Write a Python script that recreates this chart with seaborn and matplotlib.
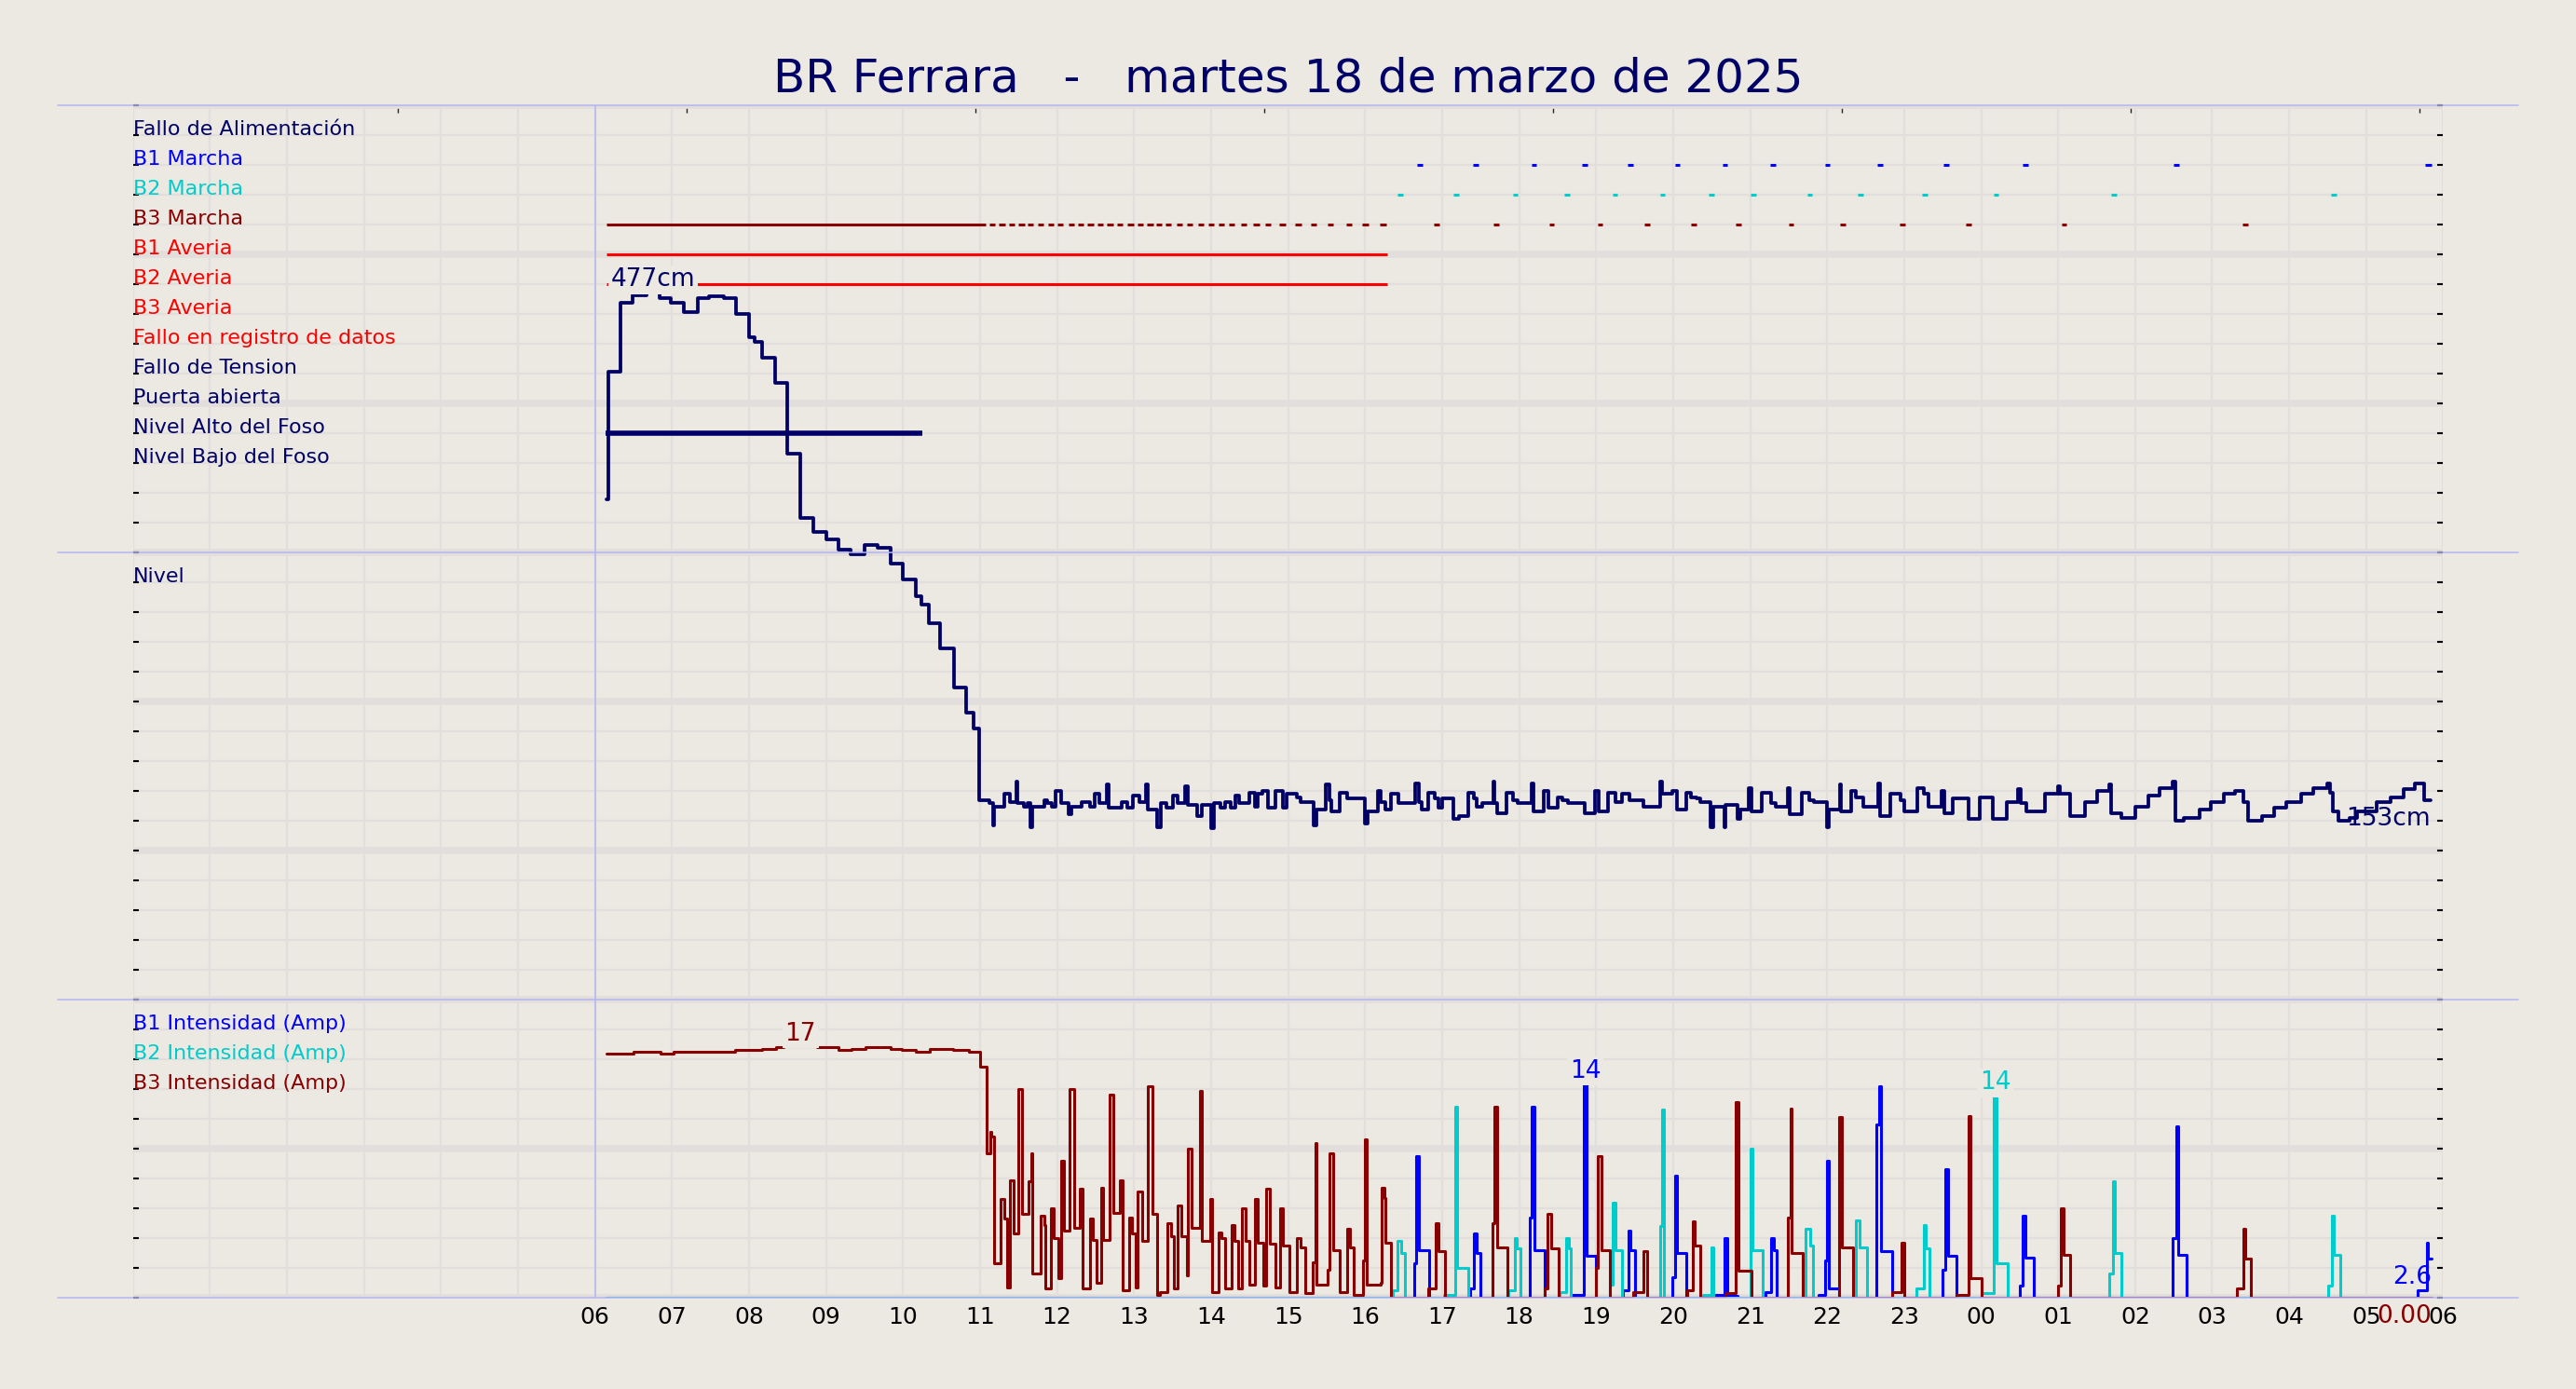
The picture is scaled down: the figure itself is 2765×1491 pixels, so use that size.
import numpy as np
import matplotlib
matplotlib.use("Agg")
import matplotlib.pyplot as plt
from matplotlib.lines import Line2D
from matplotlib.ticker import FixedLocator
import seaborn as sns

TITLE = "BR Ferrara   -   martes 18 de marzo de 2025"

# colores
BG = "#ece8e2"
GRID = "#e2dedc"
SEP = "#b4b4f2"
NAVY = "#000066"
BLUE = "#0000ff"
CYAN = "#00cccc"
DARKRED = "#880000"
RED = "#ff0000"

# filas del panel de señales (de arriba a abajo)
signal_labels = ["Fallo de Alimentación", "B1 Marcha", "B2 Marcha", "B3 Marcha",
                 "B1 Averia", "B2 Averia", "B3 Averia", "Fallo en registro de datos",
                 "Fallo de Tension", "Puerta abierta", "Nivel Alto del Foso",
                 "Nivel Bajo del Foso"]
signal_colors = [NAVY, BLUE, CYAN, DARKRED, RED, RED, RED, RED,
                 NAVY, NAVY, NAVY, NAVY]
amp_labels = ["B1 Intensidad (Amp)", "B2 Intensidad (Amp)", "B3 Intensidad (Amp)"]

# tiempos en minutos desde las 00:00 del 18/03/2025
b1_runs = [(1000.7, 1004.7), (1044, 1048), (1089.6, 1093.6), (1129, 1133), (1164.7, 1168.7),
           (1201.2, 1205.2), (1238.4, 1242.4), (1275.6, 1279.6), (1318.1, 1322.1),
           (1359.1, 1363.1), (1410.7, 1414.7), (1472.3, 1476.3), (1590, 1594), (1786, 1791)]
b2_runs = [(985.5, 989.5), (1028.8, 1032.8), (1075.1, 1079.1), (1115.4, 1119.4), (1152.6, 1156.6),
           (1189.8, 1193.8), (1227.7, 1231.7), (1260.4, 1264.4), (1304.4, 1308.4),
           (1343.9, 1347.9), (1394, 1398), (1449.5, 1453.5), (1541.3, 1545.3), (1712.9, 1716.9)]
b3_runs = [(369, 664), (667.1, 671.7), (674.7, 679.3), (682.3, 686.9), (689.9, 694.5),
           (696.7, 701.3), (705.0, 709.6), (712.7, 717.3), (720.2, 724.8), (728.6, 733.2),
           (736.2, 740.8), (743.8, 748.4), (751.4, 756.0), (759.0, 763.6), (766.5, 771.1),
           (774.9, 779.5), (782.5, 787.1), (790.1, 794.7), (796.9, 801.5), (804.5, 809.1),
           (812.9, 817.5), (821.2, 825.8), (829.6, 834.2), (837.9, 842.5), (845.5, 850.1),
           (853.9, 858.5), (863.0, 867.6), (872.8, 877.4), (882.0, 886.6), (893.3, 897.9),
           (905.5, 910.1), (917.6, 922.2), (930.6, 935.2), (945.0, 949.6), (957.9, 962.5),
           (971.6, 976.2), (1013.6, 1017.6), (1060, 1064), (1103.2, 1107.2), (1141.2, 1145.2),
           (1177.6, 1181.6), (1214.1, 1218.1), (1249, 1253), (1290, 1294), (1330.2, 1334.2),
           (1376.6, 1380.6), (1428.2, 1432.2), (1502.6, 1506.6), (1643.8, 1647.8)]
b1_fault = [(369, 977)]
b2_fault = [(369, 977)]
high_pit = [(368, 615)]

# nivel del foso (cm)
level_pts = [
    (369, 345), (370, 426), (380, 470), (389, 475), (400, 477), (410, 473), (419, 470),
    (429, 464), (440, 473), (449, 474), (460, 473), (470, 463), (480, 448), (484, 445),
    (490, 435), (500, 419), (510, 374), (520, 333), (530, 324), (540, 319), (550, 313),
    (559, 310), (570, 316), (580, 314), (590, 304), (600, 294), (610, 283), (614, 278),
    (620, 266), (629, 250), (640, 225), (649, 209), (655, 199),
    (659, 153), (667, 151), (670, 137), (671, 149), (679, 157), (683, 152), (688, 165),
    (689, 151), (694, 149), (697, 151), (699, 136), (701, 149), (710, 153), (712, 151),
    (716, 149), (719, 159), (723, 151), (729, 144), (731, 149), (739, 152), (746, 149),
    (749, 157), (753, 151), (759, 163), (760, 148), (770, 152), (775, 148), (779, 156),
    (784, 152), (789, 163), (791, 147), (798, 136), (801, 151), (805, 148), (810, 156),
    (814, 151), (820, 162), (822, 150), (829, 143), (833, 150), (840, 135), (842, 151),
    (847, 148), (851, 152), (855, 148), (859, 156), (862, 151), (870, 158), (874, 149),
    (876, 157), (880, 159), (884, 148), (890, 159), (896, 148), (899, 157), (907, 155),
    (910, 152), (920, 137), (922, 147), (929, 163), (932, 153), (934, 146), (940, 158),
    (946, 154), (960, 138), (962, 146), (970, 159), (972, 152), (976, 147), (980, 157),
    (986, 151), (999, 164), (1002, 152), (1004, 147), (1009, 158), (1014, 154), (1017, 148),
    (1020, 154), (1029, 141), (1033, 143), (1040, 158), (1045, 154), (1047, 149), (1051, 151),
    (1060, 165), (1061, 151), (1063, 145), (1070, 158), (1075, 153), (1079, 151), (1090, 164),
    (1091, 146), (1099, 159), (1103, 148), (1110, 155), (1114, 153), (1118, 151), (1131, 145),
    (1139, 159), (1142, 146), (1149, 158), (1155, 152), (1160, 157), (1166, 153), (1177, 149),
    (1190, 165), (1191, 157), (1199, 159), (1203, 147), (1210, 158), (1214, 155),
    (1218, 154), (1221, 152), (1229, 136), (1231, 149), (1240, 136), (1241, 150), (1250, 141),
    (1252, 147), (1259, 161), (1261, 146), (1269, 158), (1276, 151), (1280, 149), (1289, 161),
    (1291, 144), (1300, 158), (1306, 153), (1310, 152), (1320, 136), (1321, 147), (1330, 163),
    (1331, 146), (1339, 159), (1342, 155), (1348, 149), (1360, 164), (1361, 143), (1369, 157),
    (1377, 153), (1380, 146), (1390, 161), (1395, 157), (1399, 149), (1409, 159), (1411, 145),
    (1418, 154), (1430, 141), (1439, 155), (1449, 141), (1460, 152), (1469, 160), (1471, 151),
    (1475, 146), (1490, 157), (1500, 162), (1501, 157), (1509, 143), (1521, 152), (1530, 159),
    (1540, 163), (1541, 145), (1549, 142), (1560, 149), (1570, 156), (1579, 161), (1589, 165),
    (1591, 140), (1598, 142), (1610, 147), (1619, 152), (1629, 157), (1638, 159), (1644, 152),
    (1648, 140), (1659, 143), (1668, 148), (1678, 152), (1689, 157), (1699, 161), (1710, 164),
    (1712, 158), (1714, 146), (1718, 140), (1727, 142), (1733, 146), (1748, 152), (1759, 155),
    (1769, 160), (1778, 164), (1785, 153), (1790, 153)]

# intensidades (A)
b1_pts = [
    (369, 0), (998.5, 2.3), (1000, 9.5), (1002, 3.2), (1010, 0), (1042, 0.6), (1045, 4.3),
    (1047, 3.0), (1050, 0), (1088, 5.4), (1090, 12.8), (1092, 3.2), (1100, 0), (1122, 0.2),
    (1130.5, 14.4), (1132.5, 2.8), (1140, 0), (1161, 0.5), (1165, 4.5), (1166.5, 3.2),
    (1170.5, 0), (1199, 1.4), (1201.5, 8.2), (1203, 3.0), (1210, 0), (1232, 0.2), (1240, 4.0),
    (1242, 0.1), (1250, 0), (1272, 0.4), (1276.5, 4.0), (1278.5, 3.2), (1281, 0), (1313, 0.2),
    (1318.5, 2.5), (1320, 9.2), (1321, 0.6), (1329.5, 0), (1358.5, 11.6), (1360.5, 14.2),
    (1362, 3.1), (1370.5, 0), (1410, 1.9), (1412, 8.6), (1414, 2.8), (1420.5, 0), (1470, 0.8),
    (1472.5, 5.5), (1474.5, 2.7), (1481, 0), (1589.5, 4.0), (1592, 11.5), (1593.5, 2.9),
    (1600, 0), (1780, 0.5), (1787, 3.7), (1788, 2.6), (1791, 2.6)]
b2_pts = [
    (369, 0), (981.5, 0.5), (985.5, 3.8), (988, 3.0), (991, 0), (1021.5, 0.2), (1030, 12.8),
    (1031.5, 2.0), (1040.5, 0), (1071.5, 0.5), (1076.5, 4.0), (1078, 3.3), (1081, 0),
    (1111.5, 0.4), (1116.5, 4.0), (1118.5, 3.3), (1120, 0), (1150.5, 0.9), (1153, 6.4),
    (1155, 3.2), (1160, 0), (1190, 4.8), (1191, 12.6), (1192.5, 0), (1223, 0.2), (1229.5, 3.4),
    (1231, 0), (1260.5, 10.0), (1262, 3.2), (1270, 0), (1303.5, 4.6), (1306.5, 3.5), (1309, 0),
    (1342, 5.2), (1345, 3.4), (1351, 0), (1389.5, 0.6), (1395, 4.9), (1396.5, 3.3), (1400, 0),
    (1440.5, 0.3), (1450, 13.6), (1452, 2.3), (1460.5, 0), (1540, 1.6), (1542.5, 7.8),
    (1544, 3.0), (1549.5, 0), (1710.5, 0.8), (1713, 5.5), (1715, 2.9), (1719.5, 0), (1791, 0)]
b3_pts = [
    (369, 16.4), (380, 16.4), (390, 16.5), (411, 16.4), (421, 16.5), (430, 16.5), (469, 16.6),
    (490, 16.7), (501, 16.8), (507, 16.9), (533, 16.8), (550, 16.6), (560, 16.7), (571, 16.8),
    (590, 16.7), (599, 16.6), (610, 16.5), (621, 16.7), (639, 16.6), (651, 16.5), (660, 15.5),
    (665, 9.7), (668, 11.1), (669, 10.8), (671, 2.3), (676, 6.6), (679, 5.3), (681, 0.7),
    (683, 7.9), (686, 4.3), (690, 14.0), (693, 5.6), (698, 7.8), (700, 9.7), (701, 1.6),
    (707, 5.5), (710, 4.9), (711, 0.6), (715, 6.0), (717, 4.0), (721, 1.3), (723, 9.2),
    (725, 4.5), (730, 14.0), (733, 4.7), (738, 7.3), (740, 0.6), (746, 5.3), (748, 3.9),
    (751, 1.0), (754, 7.4), (756, 3.9), (761, 13.6), (764, 5.7), (769, 7.9), (771, 0.5),
    (776, 5.4), (778, 4.3), (781, 0.7), (783, 7.1), (786, 3.8), (791, 14.2), (794, 5.6),
    (798, 0.2), (800, 0.4), (806, 5.0), (809, 4.1), (811, 0.6), (814, 6.2), (817, 4.1),
    (821, 1.5), (822, 10.0), (825, 4.7), (831, 13.9), (833, 3.8), (839, 6.6), (841, 0.4),
    (846, 4.4), (848, 4.0), (851, 0.6), (856, 4.9), (858, 3.8), (861, 0.6), (864, 6.0),
    (867, 3.8), (870, 0.9), (874, 6.6), (876, 3.7), (881, 0.8), (883, 7.3), (886, 3.6),
    (890, 0.7), (894, 6.0), (896, 3.5), (901, 0.4), (907, 4.0), (910, 3.4), (913, 0.3),
    (919, 2.4), (921, 10.4), (922, 0.9), (931, 1.9), (932, 9.7), (935, 3.2), (940, 0.4),
    (946, 4.6), (948, 3.4), (951, 0.2), (958, 2.5), (960, 10.6), (961, 0.9), (972, 1.0),
    (973, 7.4), (975, 6.7), (976, 3.7), (980, 0.0),
    (1009, 0.6), (1015, 5.0), (1017, 3.1), (1022, 0.0), (1059, 5.0), (1061, 12.8), (1063, 3.4),
    (1071, 0.0), (1100, 0.6), (1102, 5.6), (1105, 3.3), (1111, 0.0), (1140, 2.0), (1141, 9.5),
    (1144, 3.2), (1151, 0.0), (1169, 0.4), (1177, 3.1), (1180, 0.0), (1211, 0.5), (1215, 5.1),
    (1217, 3.5), (1221, 0.0), (1241, 0.3), (1249, 13.1), (1251, 1.8), (1261, 0.0), (1289, 5.4),
    (1291.5, 12.7), (1292.5, 3.0), (1301, 0.0), (1329, 12.1), (1331.5, 3.4), (1340, 0.0),
    (1371, 0.4), (1378, 3.7), (1380, 0.0), (1421, 0.2), (1430, 12.2), (1431.5, 1.3),
    (1440.5, 0.0), (1499.5, 0.8), (1502, 6.0), (1504, 2.9), (1509, 0.0), (1639, 0.6),
    (1644.5, 4.6), (1646, 2.6), (1650, 0.0), (1791, 0.0)]

# escala del panel de nivel: cm por fila y valor de la fila inferior
LVL_ROW_CM = 19.0
LVL_LOW = 25.9
# marcas superiores del panel de señales (horas)
top_tick_hours = [3.44, 7.19, 10.94, 14.69, 18.44, 22.19, 25.94, 29.69]

sns.set_theme(style="white", rc={"axes.facecolor": BG, "figure.facecolor": BG})
plt.rcParams["font.family"] = ["DejaVu Sans"]


def to_arrays(pts):
    t = np.array([p[0] for p in pts], dtype=float) / 60.0
    v = np.array([p[1] for p in pts], dtype=float)
    return t, v


def step(ax, pts, color, lw=2.2, **kw):
    t, v = to_arrays(pts)
    sns.lineplot(x=t, y=v, ax=ax, color=color, lw=lw, drawstyle="steps-post",
                 estimator=None, **kw)
    return t, v


def max_label(ax, t, v, text, color):
    i = int(np.argmax(v))
    xm = (t[i] + t[i + 1]) / 2
    ax.text(xm, v[i], text, ha="center", va="bottom", fontsize=19, color=color,
            bbox=dict(boxstyle="square,pad=0.1", fc=BG, ec="none"), zorder=6)


def end_label(ax, t, v, text, color):
    ax.annotate(text, (t[-1], v[-1]), xytext=(0, -5), textcoords="offset points",
                ha="right", va="top", fontsize=19, color=color, zorder=6,
                annotation_clip=False)


fig = plt.figure(figsize=(27.65, 14.91), dpi=100, facecolor=BG)
L, W = 0.05165, 0.8968
ax_sig = fig.add_axes([L, 0.6023, W, 0.3219])
ax_lvl = fig.add_axes([L, 0.2803, W, 0.3219])
ax_amp = fig.add_axes([L, 0.0657, W, 0.2146])

hours = np.arange(0, 31)
tick_txt = ["" if h < 6 else f"{h % 24:02d}" for h in hours]

ax_sig.set_ylim(15, 0)
ax_sig.yaxis.set_major_locator(FixedLocator(np.arange(0, 16, 5)))
ax_sig.yaxis.set_minor_locator(FixedLocator(np.arange(0, 16)))
lvl_rows = LVL_LOW + LVL_ROW_CM * np.arange(16)
ax_lvl.set_ylim(lvl_rows[0], lvl_rows[-1])
ax_lvl.yaxis.set_major_locator(FixedLocator(lvl_rows[::5]))
ax_lvl.yaxis.set_minor_locator(FixedLocator(lvl_rows))
ax_amp.set_ylim(0, 20)
ax_amp.yaxis.set_major_locator(FixedLocator([0, 10, 20]))
ax_amp.yaxis.set_minor_locator(FixedLocator(np.arange(0, 21, 2)))

for ax in (ax_sig, ax_lvl, ax_amp):
    ax.set_facecolor(BG)
    ax.set_xlim(0, 30)
    ax.set_xticks(hours)
    ax.set_axisbelow(True)
    ax.grid(True, which="major", axis="x", color=GRID, lw=1.6)
    ax.grid(True, which="minor", axis="y", color=GRID, lw=1.7)
    ax.grid(True, which="major", axis="y", color=GRID, lw=5.5)
    ax.tick_params(axis="y", which="both", left=True, right=True, direction="in",
                   length=4, width=1.5, color="black", labelleft=False, labelright=False)
    ax.tick_params(axis="x", which="major", length=0, labelbottom=False)
    for s in ax.spines.values():
        s.set_visible(False)
    ax.axvline(6, color=SEP, lw=1.1, zorder=1.5)

ax_amp.set_xticklabels(tick_txt)
ax_amp.tick_params(axis="x", which="major", labelbottom=True, labelsize=18, pad=6.5,
                   labelcolor="black")

ax_sig.xaxis.set_minor_locator(FixedLocator(top_tick_hours))
ax_sig.tick_params(axis="x", which="minor", top=True, bottom=False, direction="in",
                   length=6, width=1, color="#222222")

# panel de señales
for i, (lab, col) in enumerate(zip(signal_labels, signal_colors)):
    ax_sig.text(0, 1 - (i + 1) / 15, lab, transform=ax_sig.transAxes, fontsize=16,
                color=col, ha="left", va="baseline", zorder=4)

row_of = {lab: i + 1 for i, lab in enumerate(signal_labels)}
bars = [("B1 Marcha", b1_runs, BLUE, 2.2), ("B2 Marcha", b2_runs, CYAN, 2.2),
        ("B3 Marcha", b3_runs, DARKRED, 2.2), ("B1 Averia", b1_fault, RED, 2.2),
        ("B2 Averia", b2_fault, RED, 2.2), ("Nivel Alto del Foso", high_pit, NAVY, 4.0)]
for lab, runs, col, lw in bars:
    starts = np.array([r[0] for r in runs]) / 60.0
    ends = np.array([r[1] for r in runs]) / 60.0
    rows = np.full(len(runs), row_of[lab])
    ax_sig.hlines(rows, starts, ends, colors=col, lw=lw, zorder=3)

# panel de nivel
ax_lvl.text(0, 1 - 1 / 15, "Nivel", transform=ax_lvl.transAxes, fontsize=16,
            color=NAVY, ha="left", va="baseline")
t_l, v_l = step(ax_lvl, level_pts, NAVY, lw=2.7, clip_on=False, zorder=4)
max_label(ax_lvl, t_l, v_l, f"{v_l.max():.0f}cm", NAVY)
end_label(ax_lvl, t_l, v_l, f"{v_l[-1]:.0f}cm", NAVY)

# panel de intensidades
for i, (lab, col) in enumerate(zip(amp_labels, [BLUE, CYAN, DARKRED])):
    ax_amp.text(0, 1 - (i + 1) / 10, lab, transform=ax_amp.transAxes, fontsize=16,
                color=col, ha="left", va="baseline")
t1, v1 = step(ax_amp, b1_pts, BLUE)
t2, v2 = step(ax_amp, b2_pts, CYAN)
t3, v3 = step(ax_amp, b3_pts, DARKRED)
max_label(ax_amp, t1, v1, f"{v1.max():.0f}", BLUE)
max_label(ax_amp, t2, v2, f"{v2.max():.0f}", CYAN)
max_label(ax_amp, t3, v3, f"{v3.max():.0f}", DARKRED)
end_label(ax_amp, t1, v1, f"{v1[-1]:.1f}", BLUE)
end_label(ax_amp, t3, v3, f"{v3[-1]:.2f}", DARKRED)

for ax in (ax_sig, ax_lvl, ax_amp):
    ax.set_xlabel("")
    ax.set_ylabel("")

# separadores
for yf in (0.9242, 0.6023, 0.2803, 0.0657):
    fig.add_artist(Line2D([0.0224, 0.9776], [yf, yf], color=SEP, lw=1.1, zorder=10))

fig.text(0.5, 0.9338, TITLE, ha="center", va="baseline", fontsize=36, color=NAVY)

fig.savefig("out.png", dpi=100, facecolor=BG)
